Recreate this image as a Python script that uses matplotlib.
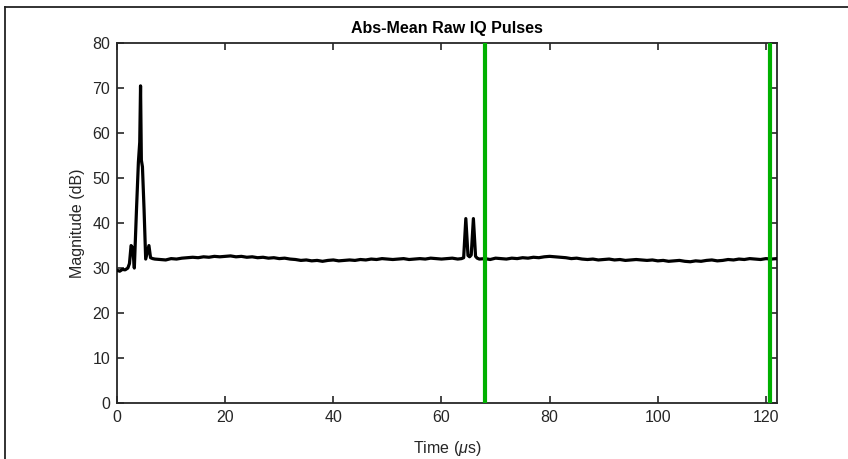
import matplotlib
matplotlib.use('Agg')
import matplotlib.pyplot as plt
from matplotlib.lines import Line2D

plt.rcParams['font.family'] = ['Liberation Sans', 'DejaVu Sans']
plt.rcParams['mathtext.fontset'] = 'custom'
plt.rcParams['mathtext.it'] = 'Liberation Sans:italic'
plt.rcParams['mathtext.rm'] = 'Liberation Sans'

# pulse at the start
head_t = [0, 0.5, 1.0, 1.5, 2.0, 2.3, 2.6, 2.9, 3.2, 3.6, 3.95, 4.2, 4.35, 4.5,
          4.7, 5.0, 5.3, 5.6, 5.9, 6.2, 6.6]
head_y = [29.5, 29.3, 29.7, 29.6, 30.0, 31.0, 35.0, 34.5, 30.0, 43.0, 53.5,
          58.0, 70.5, 54.0, 52.5, 43.0, 32.0, 33.5, 35.0, 32.3, 32.1]

# flat part up to the double pulse (1 us steps from 7 to 63)
mid_y = [32.0, 31.9, 31.8, 32.1, 32.0, 32.2,
         32.3, 32.4, 32.3, 32.5, 32.4, 32.6, 32.5, 32.6, 32.7, 32.5, 32.6, 32.4, 32.5,
         32.3, 32.4, 32.2, 32.3, 32.1, 32.2, 32.0, 31.9,
         31.7, 31.8, 31.6, 31.7, 31.5, 31.7, 31.8, 31.6, 31.7, 31.8, 31.7, 31.9,
         31.8, 32.0, 31.9, 32.1, 32.0, 31.9, 32.0, 32.1, 31.9, 32.0, 32.1, 32.0,
         32.2, 32.1, 32.0, 32.1, 32.2, 32.0]
mid_t = list(range(7, 64))

# double pulse near 65 us
pair_t = [63.7, 64.1, 64.5, 64.9, 65.2, 65.5, 65.9, 66.3, 66.6]
pair_y = [32.1, 32.3, 41.0, 32.8, 32.5, 32.9, 41.0, 32.6, 32.2]

# tail (1 us steps from 67 to 122)
tail_y = [32.0, 32.1, 31.9, 32.2, 32.1, 32.0, 32.2, 32.1, 32.3, 32.2, 32.4, 32.3, 32.5,
          32.6, 32.5, 32.4, 32.3, 32.1, 32.2,
          32.0, 31.9, 32.0, 31.8, 31.9, 32.0, 31.8, 31.9, 31.7, 31.8, 31.9, 31.8, 31.7, 31.8,
          31.6, 31.7, 31.5, 31.6, 31.7, 31.5, 31.4, 31.6, 31.5, 31.7, 31.8, 31.6, 31.7,
          31.9, 31.8, 32.0, 31.9, 32.1, 32.0, 31.9, 32.1, 32.0, 32.1]
tail_t = list(range(67, 123))

t = head_t + mid_t + pair_t + tail_t
mag = head_y + mid_y + pair_y + tail_y

markers = [68.0, 120.7]

fig = plt.figure(figsize=(8.48, 4.59), dpi=100)
ax = fig.add_axes([0.138, 0.122, 0.778, 0.784])

ax.plot(t, mag, color='black', linewidth=2.3, zorder=3)
for m in markers:
    ax.axvline(m, color='#00b000', linewidth=3.0, zorder=4)

ax.set_xlim(0, 122)
ax.set_ylim(0, 80)
ax.set_xticks(range(0, 121, 20))
ax.set_yticks(range(0, 81, 10))
ax.tick_params(direction='in', top=True, right=True, length=5, width=1.2,
               labelsize=11.5, colors='#262626', pad=5)
for s in ax.spines.values():
    s.set_linewidth(1.3)
    s.set_color('#262626')

ax.set_title('Abs-Mean Raw IQ Pulses', fontsize=11.5, fontweight='bold', pad=7)
ax.set_xlabel(r'Time ($\mu$s)', fontsize=11.5, color='#262626', labelpad=10)
ax.set_ylabel('Magnitude (dB)', fontsize=11.5, color='#262626', labelpad=5)

# outer frame of the original screenshot
fig.add_artist(Line2D([0.0063, 1.0], [0.984, 0.984], color='#222222', linewidth=1.3))
fig.add_artist(Line2D([0.0063, 0.0063], [0.0, 0.984], color='#222222', linewidth=1.3))

fig.savefig('out.png', dpi=100)
